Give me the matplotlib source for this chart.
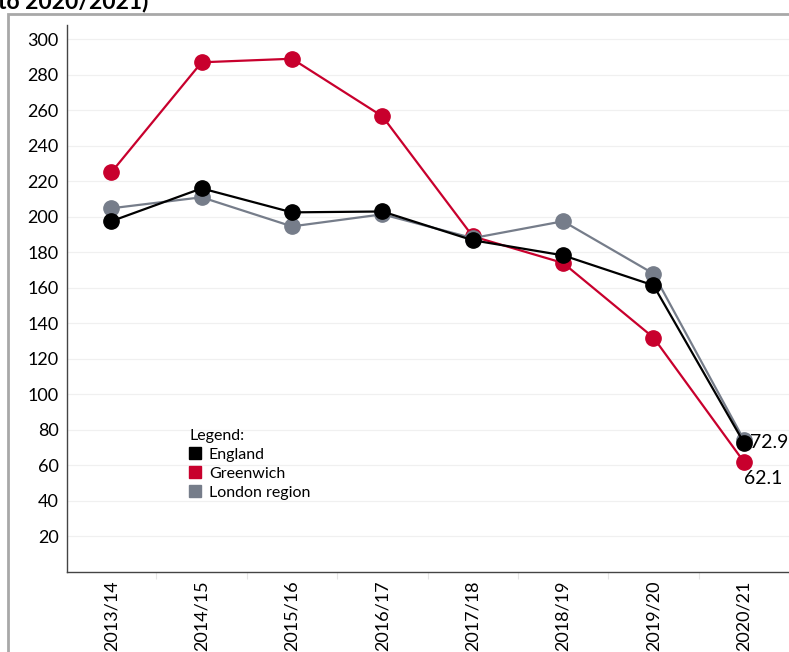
#!/usr/bin/env python3
# -*- coding: utf-8 -*-
"""
Line chart: England / Greenwich / London region, 2013/14 - 2020/21.
"""

import matplotlib
matplotlib.use("Agg")
import matplotlib.pyplot as plt
import matplotlib.patches as patches
from matplotlib.lines import Line2D

plt.rcParams['font.family'] = ['Lato', 'DejaVu Sans']

# data
years = ["2013/14", "2014/15", "2015/16", "2016/17",
         "2017/18", "2018/19", "2019/20", "2020/21"]
england   = [197.5, 216.0, 202.5, 203.0, 186.8, 178.3, 161.4, 72.9]
greenwich = [225.0, 287.0, 289.0, 256.6, 189.0, 174.0, 132.0, 62.1]
london    = [204.8, 211.0, 194.6, 201.4, 188.0, 197.5, 168.0, 74.5]
yticks = list(range(20, 301, 20))

c_eng = '#000000'
c_gre = '#c8002d'
c_lon = '#767d8a'

W, H = 789, 652
fig = plt.figure(figsize=(W/100, H/100), dpi=100)

# grey frame round the chart (cut off right and bottom)
frame = patches.Rectangle((8/W, -0.1), 1.2, 1 - 14/H + 0.1, transform=fig.transFigure,
                          fill=False, edgecolor='#a8a8a8', lw=2.0, clip_on=False)
fig.patches.append(frame)

# cut-off title
fig.text(-2/W, 1 - 8/H, "to 2020/2021)", fontsize=16.5, fontweight='bold',
         ha='left', va='baseline')

ax = fig.add_axes([67/W, 1 - 572/H, (W - 67)/W, (572 - 25)/H])
x = list(range(len(years)))

ax.plot(x, greenwich, color=c_gre, lw=1.6, marker='o', ms=11, zorder=3)
ax.plot(x, london, color=c_lon, lw=1.6, marker='o', ms=11, zorder=4)
ax.plot(x, england, color=c_eng, lw=1.6, marker='o', ms=11, zorder=5)

ax.set_xlim(-0.49, 7.49)
ax.set_ylim(0, 308)

ax.set_yticks(yticks)
ax.set_yticklabels([str(v) for v in yticks], fontsize=13)
ax.tick_params(axis='y', length=0, pad=6)
ax.yaxis.grid(True, color='#f0f0f0', lw=0.9)
ax.set_axisbelow(True)

ax.set_xticks(x)
ax.set_xticklabels(years, rotation=90, fontsize=13)
ax.tick_params(axis='x', length=0, pad=6)
ax.set_xticks([i + 0.5 for i in x], minor=True)
ax.tick_params(axis='x', which='minor', length=5, color='#e6e6e6', width=0.8)

for s in ['top', 'right']:
    ax.spines[s].set_visible(False)
for s in ['left', 'bottom']:
    ax.spines[s].set_color('#444444')
    ax.spines[s].set_linewidth(1.0)

# end labels
ax.text(x[-1] + 0.07, england[-1], f"{england[-1]:.1f}", fontsize=14,
        ha='left', va='center', zorder=6)
ax.text(x[-1] + 0.0, greenwich[-1] - 9.5, f"{greenwich[-1]:.1f}", fontsize=14,
        ha='left', va='center', zorder=6)

# legend
handles = [Line2D([], [], ls='none', marker='s', ms=8.5, color=c)
           for c in (c_eng, c_gre, c_lon)]
leg = ax.legend(handles, ["England", "Greenwich", "London region"],
                title="Legend:", loc='upper left', bbox_to_anchor=(0.170, 0.262),
                frameon=False, fontsize=11.5, title_fontsize=11.5,
                handlelength=0.7, handletextpad=0.5, labelspacing=0.3,
                borderpad=0, borderaxespad=0)
leg._legend_box.align = 'left'

fig.savefig('out.png', dpi=100)
